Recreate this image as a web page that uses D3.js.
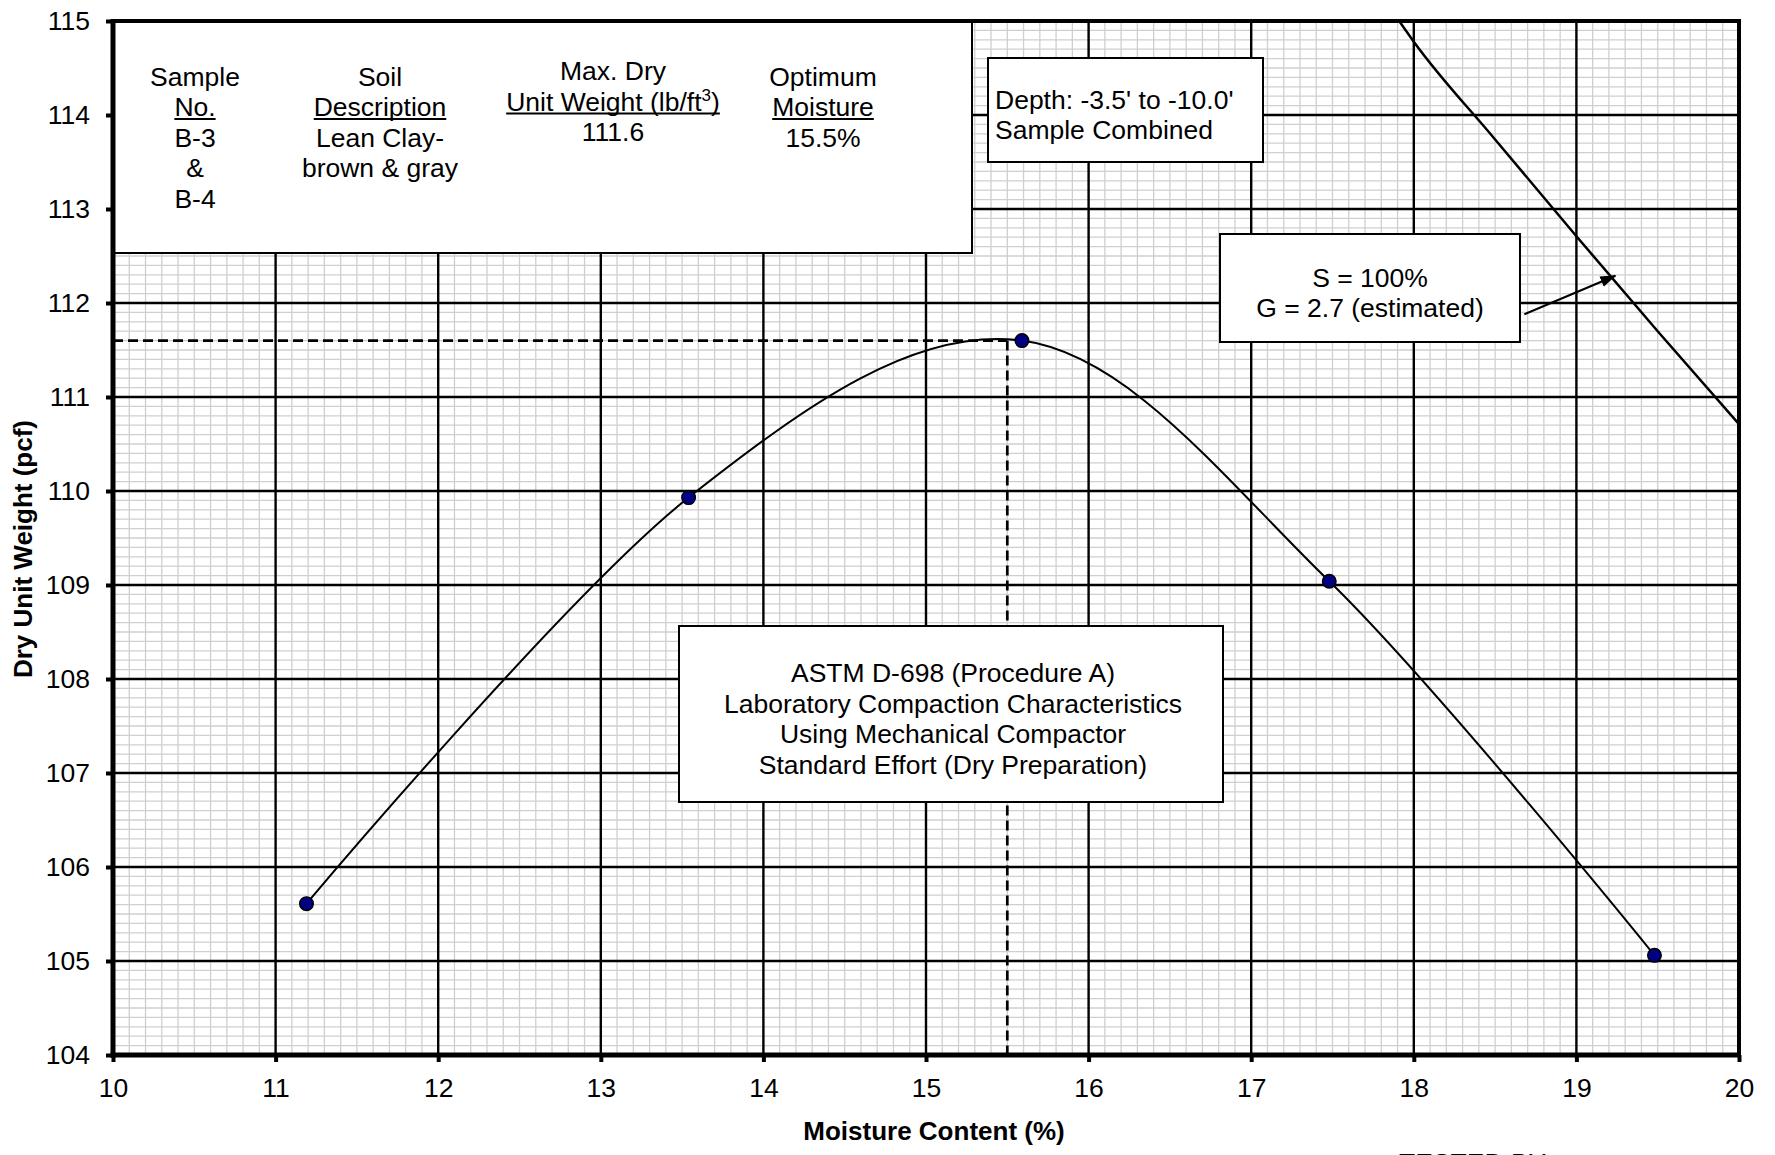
<!DOCTYPE html>
<html>
<head>
<meta charset="utf-8">
<script src="https://cdn.jsdelivr.net/npm/d3@7"></script>
<style>
  html, body { margin: 0; padding: 0; background: #fff; }
  svg text { font-family: "Liberation Sans", Arial, Helvetica, sans-serif; fill: #000; }
</style>
</head>
<body>
<svg id="chart" width="1775" height="1155"></svg>
<script>
// Compaction test points: moisture content (%) vs dry unit weight (pcf)
const moisture = [11.19, 13.54, 15.59, 17.48, 19.48];
const dryUnitWeight = [105.61, 109.93, 111.60, 109.04, 105.06];

// Zero-air-voids (S = 100%) line
const zavMoisture = [17.91, 18.0, 18.5, 19.0, 19.5, 20.0];
const zavWeight = [115.0, 114.78, 113.74, 112.71, 111.70, 110.71];

// Optimum point used for the dashed reference lines
const optimumMoisture = 15.5;
const maxDryWeight = 111.6;

// Arrow from the S = 100% label to the line: [moisture, weight]
const arrowFrom = [18.68, 111.88];
const arrowTo = [19.24, 112.29];

const moistureTicks = [10, 11, 12, 13, 14, 15, 16, 17, 18, 19, 20];
const weightTicks = [104, 105, 106, 107, 108, 109, 110, 111, 112, 113, 114, 115];

const FONT = 26.5;
const svg = d3.select("#chart");

const x = d3.scaleLinear().domain([10, 20]).range([113, 1739]);
const y = d3.scaleLinear().domain([104, 115]).range([1055, 21]);

const [x0, x1] = x.range();
const [y0, y1] = y.range();

svg.append("defs").append("clipPath").attr("id", "plotClip")
  .append("rect").attr("x", x0).attr("y", y1).attr("width", x1 - x0).attr("height", y0 - y1);

// Graph-paper grid: minor every 0.1, major every 1
const grid = svg.append("g");
const minorX = d3.range(100, 201).map(v => v / 10).filter(v => Math.abs(v - Math.round(v)) > 1e-6);
const minorY = d3.range(1040, 1151).map(v => v / 10).filter(v => Math.abs(v - Math.round(v)) > 1e-6);

grid.selectAll(".minor-x").data(minorX).join("line")
  .attr("x1", d => x(d)).attr("x2", d => x(d)).attr("y1", y0).attr("y2", y1)
  .attr("stroke", "#cfcfcf").attr("stroke-width", 1.3);
grid.selectAll(".minor-y").data(minorY).join("line")
  .attr("y1", d => y(d)).attr("y2", d => y(d)).attr("x1", x0).attr("x2", x1)
  .attr("stroke", "#cfcfcf").attr("stroke-width", 1.3);
grid.selectAll(".major-x").data(moistureTicks).join("line")
  .attr("x1", d => x(d)).attr("x2", d => x(d)).attr("y1", y0).attr("y2", y1)
  .attr("stroke", "#000").attr("stroke-width", 2.4);
grid.selectAll(".major-y").data(weightTicks).join("line")
  .attr("y1", d => y(d)).attr("y2", d => y(d)).attr("x1", x0).attr("x2", x1)
  .attr("stroke", "#000").attr("stroke-width", 2.4);

const plot = svg.append("g").attr("clip-path", "url(#plotClip)");

// Dashed lines marking the optimum
plot.append("line")
  .attr("x1", x(10)).attr("x2", x(optimumMoisture))
  .attr("y1", y(maxDryWeight)).attr("y2", y(maxDryWeight))
  .attr("stroke", "#000").attr("stroke-width", 2.7).attr("stroke-dasharray", "10,5");
plot.append("line")
  .attr("x1", x(optimumMoisture)).attr("x2", x(optimumMoisture))
  .attr("y1", y(maxDryWeight)).attr("y2", y(104))
  .attr("stroke", "#000").attr("stroke-width", 2.7).attr("stroke-dasharray", "10,5");

// Zero-air-voids line
const zav = zavMoisture.map((m, i) => [m, zavWeight[i]]);
plot.append("path")
  .attr("d", d3.line().x(d => x(d[0])).y(d => y(d[1])).curve(d3.curveMonotoneX)(zav))
  .attr("fill", "none").attr("stroke", "#000").attr("stroke-width", 2.5);

// Smoothed compaction curve
const pts = moisture.map((m, i) => [m, dryUnitWeight[i]]);
plot.append("path")
  .attr("d", d3.line().x(d => x(d[0])).y(d => y(d[1])).curve(d3.curveCardinal.tension(0))(pts))
  .attr("fill", "none").attr("stroke", "#000").attr("stroke-width", 2);

plot.selectAll(".pt").data(pts).join("circle")
  .attr("cx", d => x(d[0])).attr("cy", d => y(d[1])).attr("r", 6.8)
  .attr("fill", "#000080").attr("stroke", "#000").attr("stroke-width", 1.4);

// Text boxes
function box(left, top, right, bottom) {
  svg.append("rect").attr("x", left).attr("y", top)
    .attr("width", right - left).attr("height", bottom - top)
    .attr("fill", "#fff").attr("stroke", "#000").attr("stroke-width", 2);
}
function label(txt, cx, baseline, anchor = "middle", underline = false) {
  const t = svg.append("text").attr("x", cx).attr("y", baseline)
    .attr("text-anchor", anchor).attr("font-size", FONT).text(txt);
  if (underline) addUnderline(t, cx, baseline);
  return t;
}
function addUnderline(t, cx, baseline) {
  const w = t.node().getComputedTextLength();
  svg.append("line").attr("x1", cx - w / 2).attr("x2", cx + w / 2)
    .attr("y1", baseline + 3).attr("y2", baseline + 3)
    .attr("stroke", "#000").attr("stroke-width", 1.8);
}

// Sample summary box
box(114, 21, 972, 253);
const colSample = 195, colSoil = 380, colMax = 613, colOpt = 823;
const rows = [85.5, 116, 146.5, 177, 207.5];
label("Sample", colSample, rows[0]);
label("No.", colSample, rows[1], "middle", true);
label("B-3", colSample, rows[2]);
label("&", colSample, rows[3]);
label("B-4", colSample, rows[4]);

label("Soil", colSoil, rows[0]);
label("Description", colSoil, rows[1], "middle", true);
label("Lean Clay-", colSoil, rows[2]);
label("brown & gray", colSoil, rows[3]);

const maxRows = [80, 110.5, 141];
label("Max. Dry", colMax, maxRows[0]);
const uw = svg.append("text").attr("x", colMax).attr("y", maxRows[1])
  .attr("text-anchor", "middle").attr("font-size", FONT);
uw.append("tspan").text("Unit Weight (lb/ft");
uw.append("tspan").attr("font-size", 17).attr("dy", -10).text("3");
uw.append("tspan").attr("dy", 10).text(")");
addUnderline(uw, colMax, maxRows[1]);
label(String(maxDryWeight), colMax, maxRows[2]);

label("Optimum", colOpt, rows[0]);
label("Moisture", colOpt, rows[1], "middle", true);
label(optimumMoisture + "%", colOpt, rows[2]);

// Depth box
box(988, 58, 1263, 162);
label("Depth: -3.5' to -10.0'", 995, 108.5, "start");
label("Sample Combined", 995, 139, "start");

// Saturation box
box(1220, 234, 1520, 342);
label("S = 100%", 1370, 286.5);
label("G = 2.7 (estimated)", 1370, 317);

// Test method box
box(679, 626, 1223, 802);
label("ASTM D-698 (Procedure A)", 953, 682);
label("Laboratory Compaction Characteristics", 953, 712.5);
label("Using Mechanical Compactor", 953, 743);
label("Standard Effort (Dry Preparation)", 953, 773.5);

// Arrow to the saturation line
svg.select("defs").append("marker").attr("id", "arrowHead")
  .attr("markerUnits", "userSpaceOnUse").attr("markerWidth", 16).attr("markerHeight", 12)
  .attr("viewBox", "0 -6 16 12").attr("refX", 15).attr("refY", 0).attr("orient", "auto")
  .append("path").attr("d", "M0,-5.5L16,0L0,5.5Z").attr("fill", "#000");
svg.append("line")
  .attr("x1", x(arrowFrom[0])).attr("y1", y(arrowFrom[1]))
  .attr("x2", x(arrowTo[0])).attr("y2", y(arrowTo[1]))
  .attr("stroke", "#000").attr("stroke-width", 2).attr("marker-end", "url(#arrowHead)");

// Plot frame
svg.append("line").attr("x1", x0).attr("x2", x1).attr("y1", y1).attr("y2", y1)
  .attr("stroke", "#000").attr("stroke-width", 4);
svg.append("line").attr("x1", x1).attr("x2", x1).attr("y1", y1 - 2).attr("y2", y0)
  .attr("stroke", "#000").attr("stroke-width", 4);

// Axes
const xAxis = svg.append("g").attr("transform", `translate(0,${y0})`)
  .call(d3.axisBottom(x).tickValues(moistureTicks).tickFormat(d3.format("d"))
    .tickSize(7).tickSizeOuter(0).tickPadding(16));
const yAxis = svg.append("g").attr("transform", `translate(${x0},0)`)
  .call(d3.axisLeft(y).tickValues(weightTicks).tickFormat(d3.format("d"))
    .tickSize(7).tickSizeOuter(0).tickPadding(16));
[xAxis, yAxis].forEach(g => {
  g.select(".domain").attr("stroke", "#000").attr("stroke-width", 5);
  g.selectAll(".tick line").attr("stroke", "#000").attr("stroke-width", 4);
  g.selectAll(".tick text").attr("font-size", FONT)
    .attr("font-family", "'Liberation Sans', Arial, sans-serif").attr("fill", "#000");
});
xAxis.select(".domain").attr("d", `M${x0 - 2.5},0H${x1 + 2}`);
yAxis.select(".domain").attr("d", `M0,${y0 + 2.5}V${y1 - 2}`);

// Axis titles
svg.append("text").attr("x", 934).attr("y", 1140).attr("text-anchor", "middle")
  .attr("font-size", 26).attr("font-weight", "bold").text("Moisture Content (%)");
svg.append("text").attr("transform", "translate(32,549) rotate(-90)")
  .attr("text-anchor", "middle").attr("font-size", 26).attr("font-weight", "bold")
  .text("Dry Unit Weight (pcf)");

// Signature line at the foot of the sheet, running off the bottom edge
svg.append("text").attr("x", 1399).attr("y", 1172).attr("font-size", FONT).text("TESTED BY");
</script>
</body>
</html>
